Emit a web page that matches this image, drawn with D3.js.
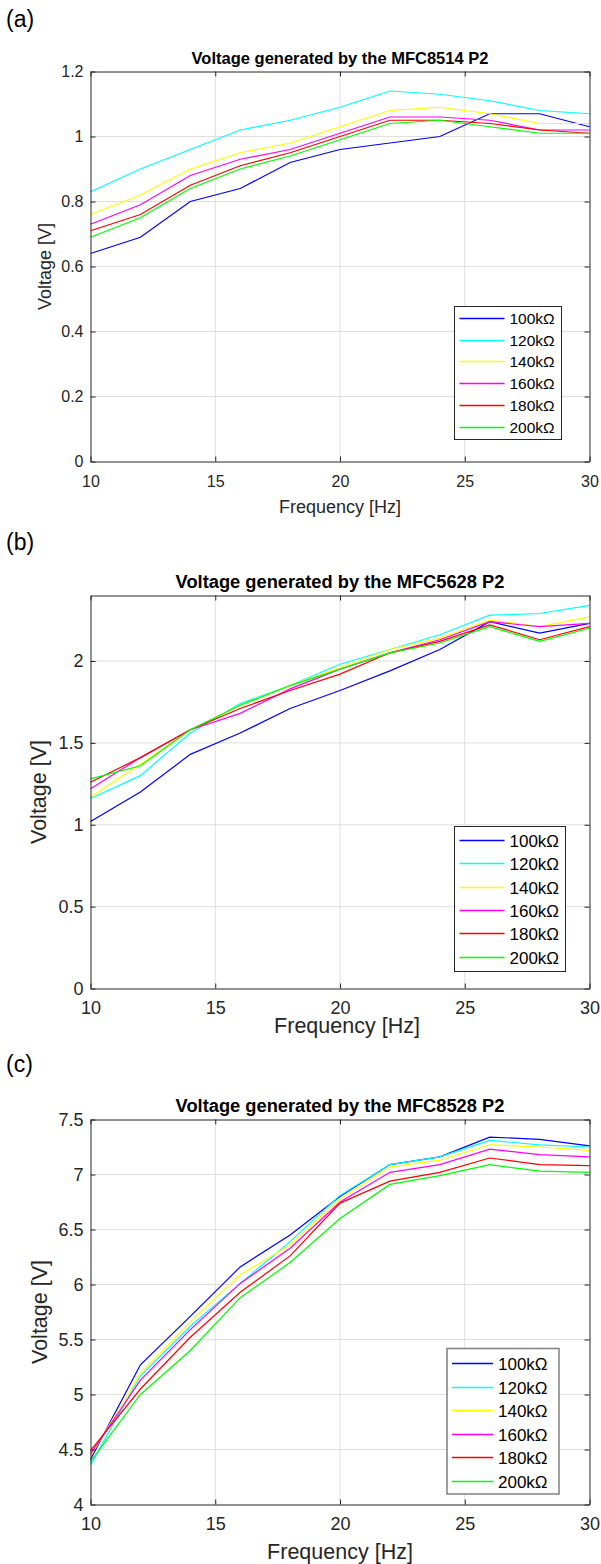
<!DOCTYPE html>
<html>
<head>
<meta charset="utf-8">
<script src="https://cdnjs.cloudflare.com/ajax/libs/d3/7.8.5/d3.min.js"></script>
<style>
body { margin: 0; background: #fff; }
svg { display: block; font-family: "Liberation Sans", Arial, sans-serif; }
</style>
</head>
<body>
<svg id="chart" width="601" height="1564"></svg>
<script>
var freq = [10, 12, 14, 16, 18, 20, 22, 24, 26, 28, 30];
var loads = ["100k\u03a9", "120k\u03a9", "140k\u03a9", "160k\u03a9", "180k\u03a9", "200k\u03a9"];
var xTicks = [10, 15, 20, 25, 30];

// (a) MFC8514 P2
var a100 = [0.64, 0.69, 0.80, 0.84, 0.92, 0.96, 0.98, 1.00, 1.07, 1.07, 1.03];
var a120 = [0.83, 0.90, 0.96, 1.02, 1.05, 1.09, 1.14, 1.13, 1.11, 1.08, 1.07];
var a140 = [0.76, 0.82, 0.90, 0.95, 0.98, 1.03, 1.08, 1.09, 1.07, 1.04, 1.04];
var a160 = [0.73, 0.79, 0.88, 0.93, 0.96, 1.01, 1.06, 1.06, 1.05, 1.02, 1.02];
var a180 = [0.71, 0.76, 0.85, 0.91, 0.95, 1.00, 1.05, 1.05, 1.04, 1.02, 1.01];
var a200 = [0.69, 0.75, 0.84, 0.90, 0.94, 0.99, 1.04, 1.05, 1.03, 1.01, 1.01];
var yTicksA = [0, 0.2, 0.4, 0.6, 0.8, 1, 1.2];

// (b) MFC5628 P2
var b100 = [1.02, 1.20, 1.43, 1.56, 1.71, 1.82, 1.94, 2.07, 2.24, 2.17, 2.23];
var b120 = [1.16, 1.30, 1.56, 1.74, 1.85, 1.98, 2.07, 2.16, 2.28, 2.29, 2.34];
var b140 = [1.17, 1.37, 1.58, 1.73, 1.85, 1.96, 2.07, 2.14, 2.25, 2.21, 2.27];
var b160 = [1.22, 1.41, 1.58, 1.68, 1.83, 1.95, 2.05, 2.13, 2.24, 2.21, 2.23];
var b180 = [1.26, 1.41, 1.58, 1.71, 1.82, 1.92, 2.05, 2.12, 2.22, 2.13, 2.21];
var b200 = [1.28, 1.36, 1.58, 1.73, 1.85, 1.95, 2.05, 2.11, 2.21, 2.12, 2.20];
var yTicksB = [0, 0.5, 1, 1.5, 2];

// (c) MFC8528 P2
var c100 = [4.41, 5.27, 5.71, 6.16, 6.45, 6.80, 7.09, 7.16, 7.34, 7.32, 7.26];
var c120 = [4.36, 5.17, 5.62, 6.01, 6.39, 6.81, 7.09, 7.16, 7.31, 7.27, 7.25];
var c140 = [4.44, 5.19, 5.66, 6.09, 6.36, 6.78, 7.07, 7.13, 7.27, 7.25, 7.22];
var c160 = [4.46, 5.13, 5.59, 6.01, 6.33, 6.75, 7.02, 7.09, 7.23, 7.18, 7.16];
var c180 = [4.49, 5.05, 5.52, 5.93, 6.26, 6.74, 6.94, 7.02, 7.15, 7.09, 7.08];
var c200 = [4.39, 5.00, 5.40, 5.88, 6.20, 6.60, 6.91, 6.99, 7.09, 7.03, 7.02];
var yTicksC = [4, 4.5, 5, 5.5, 6, 6.5, 7, 7.5];

var colors = ["#0000ff", "#00ffff", "#ffff00", "#ff00ff", "#ff0000", "#00ff00"];
var ink = "#262626";

function style_axis(g, size) {
    g.attr("font-family", null).attr("font-size", size);
    g.select(".domain").attr("stroke", ink);
    g.selectAll(".tick line").attr("stroke", ink);
    g.selectAll(".tick text").attr("fill", ink);
}

function add_panel(svg, p) {
    var left = 90.5, right = 589.5;
    var x = d3.scaleLinear().domain([10, 30]).range([left, right]);
    var y = d3.scaleLinear().domain([p.yTicks[0], p.yMax]).range([p.bottom, p.top]);

    svg.append("text")
        .attr("x", 6)
        .attr("y", p.letterY)
        .attr("font-size", "23px")
        .attr("fill", "#000")
        .text(p.letter);

    svg.append("text")
        .attr("x", 340)
        .attr("y", p.top - 8)
        .attr("text-anchor", "middle")
        .attr("font-weight", "bold")
        .attr("font-size", p.titleSize)
        .attr("fill", "#000")
        .text(p.title);

    // grid
    svg.append("g").selectAll("line")
        .data(xTicks.slice(1, -1))
        .enter().append("line")
        .attr("x1", function (d) { return x(d); })
        .attr("x2", function (d) { return x(d); })
        .attr("y1", p.top)
        .attr("y2", p.bottom)
        .attr("stroke", "#dfdfdf");

    svg.append("g").selectAll("line")
        .data(p.yTicks.filter(function (d) { return d > p.yTicks[0] && d < p.yMax; }))
        .enter().append("line")
        .attr("x1", left)
        .attr("x2", right)
        .attr("y1", function (d) { return y(d); })
        .attr("y2", function (d) { return y(d); })
        .attr("stroke", "#dfdfdf");

    var line = d3.line()
        .x(function (d, i) { return x(freq[i]); })
        .y(function (d) { return y(d); });

    svg.append("g").selectAll("path")
        .data(p.series)
        .enter().append("path")
        .attr("d", line)
        .attr("fill", "none")
        .attr("stroke", function (d, i) { return colors[i]; })
        .attr("stroke-width", 1.2);

    // box with inward ticks
    svg.append("g")
        .attr("transform", "translate(0," + p.bottom + ")")
        .call(d3.axisBottom(x).tickValues(xTicks).tickSizeInner(-5).tickSizeOuter(0).tickPadding(p.xPad))
        .call(style_axis, p.tickSize);
    svg.append("g")
        .attr("transform", "translate(0," + p.top + ")")
        .call(d3.axisTop(x).tickValues(xTicks).tickSizeInner(-5).tickSizeOuter(0).tickFormat(""))
        .call(style_axis, p.tickSize);
    svg.append("g")
        .attr("transform", "translate(" + left + ",0)")
        .call(d3.axisLeft(y).tickValues(p.yTicks).tickSizeInner(-5).tickSizeOuter(0).tickPadding(7).tickFormat(d3.format("~g")))
        .call(style_axis, p.tickSize);
    svg.append("g")
        .attr("transform", "translate(" + right + ",0)")
        .call(d3.axisRight(y).tickValues(p.yTicks).tickSizeInner(-5).tickSizeOuter(0).tickFormat(""))
        .call(style_axis, p.tickSize);

    svg.append("text")
        .attr("x", p.xLabelX)
        .attr("y", p.xLabelY)
        .attr("text-anchor", "middle")
        .attr("font-size", p.labelSize)
        .attr("fill", ink)
        .text("Frequency [Hz]");

    svg.append("text")
        .attr("transform", "rotate(-90)")
        .attr("x", -(p.top + p.bottom) / 2)
        .attr("y", p.yLabelX)
        .attr("text-anchor", "middle")
        .attr("font-size", p.labelSize)
        .attr("fill", ink)
        .text("Voltage [V]");

    // legend
    var lg = p.legend;
    var leg = svg.append("g").attr("transform", "translate(" + lg.x + "," + lg.y + ")");
    leg.append("rect")
        .attr("width", lg.w)
        .attr("height", lg.h)
        .attr("fill", "#fff")
        .attr("stroke", lg.border)
        .attr("stroke-width", lg.borderWidth);
    var item = leg.selectAll(".item")
        .data(loads)
        .enter().append("g")
        .attr("class", "item")
        .attr("transform", function (d, i) { return "translate(0," + Math.round(lg.first + i * lg.step) + ")"; });
    item.append("line")
        .attr("x1", 5)
        .attr("x2", lg.lineEnd)
        .attr("stroke", function (d, i) { return colors[i]; })
        .attr("stroke-width", 1.3);
    item.append("text")
        .attr("x", lg.lineEnd + 5)
        .attr("dy", "0.36em")
        .attr("font-size", lg.size)
        .attr("fill", "#000")
        .text(function (d) { return d; });
}

var svg = d3.select("#chart");
svg.append("rect").attr("width", 601).attr("height", 1564).attr("fill", "#fff");

add_panel(svg, {
    letter: "(a)", letterY: 27,
    title: "Voltage generated by the MFC8514 P2", titleSize: "16.5px",
    top: 71.5, bottom: 461.5, yMax: 1.2, yTicks: yTicksA,
    series: [a100, a120, a140, a160, a180, a200],
    tickSize: "16px", labelSize: "18px", xPad: 14,
    xLabelX: 340, xLabelY: 513, yLabelX: 51,
    legend: { x: 454.5, y: 306.5, w: 107, h: 133, first: 12, step: 21.7, lineEnd: 50, size: "15.5px", border: ink, borderWidth: 1 }
});

add_panel(svg, {
    letter: "(b)", letterY: 550,
    title: "Voltage generated by the MFC5628 P2", titleSize: "18.3px",
    top: 595.5, bottom: 988.5, yMax: 2.4, yTicks: yTicksB,
    series: [b100, b120, b140, b160, b180, b200],
    tickSize: "18px", labelSize: "21.5px", xPad: 13,
    xLabelX: 347, xLabelY: 1033, yLabelX: 46,
    legend: { x: 454.5, y: 826.5, w: 111, h: 145, first: 14, step: 23.3, lineEnd: 50, size: "17px", border: ink, borderWidth: 1 }
});

add_panel(svg, {
    letter: "(c)", letterY: 1072,
    title: "Voltage generated by the MFC8528 P2", titleSize: "18.3px",
    top: 1119.5, bottom: 1504.5, yMax: 7.5, yTicks: yTicksC,
    series: [c100, c120, c140, c160, c180, c200],
    tickSize: "18px", labelSize: "21.5px", xPad: 13,
    xLabelX: 340, xLabelY: 1559, yLabelX: 47,
    legend: { x: 447, y: 1348.5, w: 112, h: 145.5, first: 15, step: 23.5, lineEnd: 46, size: "17px", border: "#808080", borderWidth: 1.5 }
});
</script>
</body>
</html>
